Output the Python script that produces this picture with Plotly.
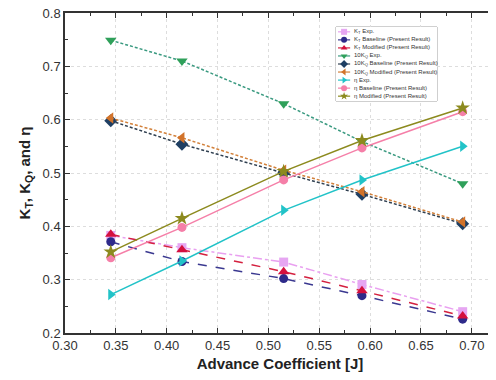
import plotly.graph_objects as go

J = [0.345, 0.415, 0.515, 0.592, 0.691]

kt_exp = [0.383, 0.360, 0.333, 0.291, 0.240]
kt_base = [0.371, 0.334, 0.302, 0.270, 0.226]
kt_mod = [0.385, 0.356, 0.315, 0.279, 0.232]

kq10_exp = [0.749, 0.710, 0.630, 0.559, 0.480]
kq10_base = [0.598, 0.554, 0.500, 0.460, 0.405]
kq10_mod = [0.603, 0.566, 0.505, 0.465, 0.408]

eta_exp = [0.272, 0.335, 0.430, 0.487, 0.550]
eta_base = [0.341, 0.398, 0.487, 0.547, 0.615]
eta_mod = [0.352, 0.415, 0.503, 0.561, 0.622]

names = [
    "K<sub>T</sub> Exp.",
    "K<sub>T</sub> Baseline (Present Result)",
    "K<sub>T</sub> Modified (Present Result)",
    "10K<sub>Q</sub> Exp.",
    "10K<sub>Q</sub> Baseline (Present Result)",
    "10K<sub>Q</sub> Modified (Present Result)",
    "η Exp.",
    "η Baseline (Present Result)",
    "η Modified (Present Result)",
]
series = [kt_exp, kt_base, kt_mod, kq10_exp, kq10_base, kq10_mod, eta_exp, eta_base, eta_mod]

styles = [
    dict(mc="#E6A6F2", lc="#E9A0F0", sym="square", dash="dashdot", ms=9),
    dict(mc="#2E2A8A", lc="#3A3890", sym="circle", dash="dash", ms=9),
    dict(mc="#D4103E", lc="#D4203F", sym="triangle-up", dash="dash", ms=10),
    dict(mc="#2FA05A", lc="#3A9A80", sym="triangle-down", dash="3px,2px", ms=10),
    dict(mc="#1F3F63", lc="#2F3F50", sym="diamond", dash="3px,2px", ms=10),
    dict(mc="#D2732A", lc="#D2803A", sym="triangle-left", dash="3px,2px", ms=10),
    dict(mc="#22C3C8", lc="#22C3C8", sym="triangle-right", dash="solid", ms=10),
    dict(mc="#F57FA8", lc="#F57FA8", sym="circle", dash="solid", ms=9),
    dict(mc="#8C8A1E", lc="#8C8A1E", sym="star", dash="solid", ms=11),
]

fig = go.Figure()
for vals, st, nm in zip(series, styles, names):
    fig.add_trace(go.Scatter(
        x=J, y=vals, mode="lines+markers", name=nm, showlegend=False,
        line=dict(color=st["lc"], width=1.5, dash=st["dash"]),
        marker=dict(symbol=st["sym"], size=st["ms"], color=st["mc"]),
    ))

# manual compact legend on auxiliary axes
rows = list(range(1, len(names) + 1))
for r, st, nm in zip(rows, styles, names):
    fig.add_trace(go.Scatter(
        x=[0.02, 0.14], y=[r, r], mode="lines", xaxis="x2", yaxis="y2",
        showlegend=False, hoverinfo="skip",
        line=dict(color=st["lc"], width=1.2, dash="solid"),
    ))
    fig.add_trace(go.Scatter(
        x=[0.08], y=[r], mode="markers", xaxis="x2", yaxis="y2",
        showlegend=False, hoverinfo="skip",
        marker=dict(symbol=st["sym"], size=6, color=st["mc"]),
    ))
    fig.add_annotation(
        x=0.16, y=r, xref="x2", yref="y2", text=nm, showarrow=False,
        xanchor="left", yanchor="middle",
        font=dict(size=6, color="#333333", family="Liberation Sans, Arial"),
    )

# the page body has an 8px offset; figure is sized to fill the 496x380 window
W, H = 488, 372
ml, mr, mt, mb = 57, 1, 5, 47
pw, ph = W - ml - mr, H - mt - mb
off = 8
lx0, lx1, ly0, ly1 = 336 - off, 437 - off, 27 - off, 101 - off
dx0, dx1 = (lx0 - ml) / pw, (lx1 - ml) / pw
dy0, dy1 = (H - mb - ly1) / ph, (H - mb - ly0) / ph

fig.add_shape(type="rect", xref="paper", yref="paper", x0=dx0, x1=dx1, y0=dy0, y1=dy1,
              line=dict(color="#888888", width=0.8), fillcolor="white", layer="below")

axis_font = dict(family="Liberation Sans, Arial", size=13, color="#333333")

fig.update_layout(
    width=W, height=H,
    margin=dict(l=ml, r=mr, t=mt, b=mb, autoexpand=False),
    plot_bgcolor="white", paper_bgcolor="white",
    font=axis_font,
    xaxis=dict(
        range=[0.3, 0.7228], tickvals=[0.30, 0.35, 0.40, 0.45, 0.50, 0.55, 0.60, 0.65, 0.70],
        ticktext=["0.30", "0.35", "0.40", "0.45", "0.50", "0.55", "0.60", "0.65", "0.70"],
        ticks="inside", ticklen=5, tickcolor="#333333", tickwidth=1.2,
        showline=True, linecolor="#333333", linewidth=1.5, mirror="ticks",
        showgrid=True, gridcolor="#dddddd", griddash="dot", gridwidth=1,
        zeroline=False, tickfont=axis_font, ticklabeloverflow="allow", automargin=False,
        minor=dict(ticks="inside", ticklen=3, dtick=0.025, tick0=0.3, tickcolor="#333333", showgrid=False),
        title=dict(text="<b>Advance Coefficient [J]</b>", font=dict(family="Liberation Sans, Arial", size=15, color="#222222"), standoff=6),
    ),
    yaxis=dict(
        range=[0.2, 0.8], dtick=0.1, tick0=0.2, tickformat=".1f",
        ticks="inside", ticklen=5, tickcolor="#333333", tickwidth=1.2,
        showline=True, linecolor="#333333", linewidth=1.5, mirror="ticks",
        showgrid=True, gridcolor="#dddddd", griddash="dot", gridwidth=1,
        zeroline=False, tickfont=axis_font, ticklabeloverflow="allow", automargin=False,
        minor=dict(ticks="inside", ticklen=3, dtick=0.05, tick0=0.2, tickcolor="#333333", showgrid=False),
        title=dict(text="<b>K<sub>T</sub>, K<sub>Q</sub>, and η</b>", font=dict(family="Liberation Sans, Arial", size=15, color="#222222"), standoff=8),
    ),
    xaxis2=dict(domain=[dx0, dx1], range=[0, 1], visible=False, anchor="y2", fixedrange=True),
    yaxis2=dict(domain=[dy0, dy1], range=[9.6, 0.4], visible=False, anchor="x2", fixedrange=True),
)

fig.write_html("out.html")
